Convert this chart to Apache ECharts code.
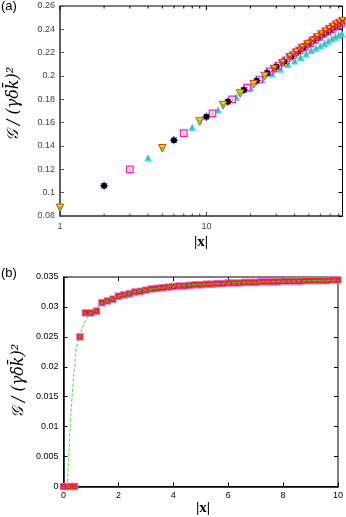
<!DOCTYPE html>
<html><head><meta charset="utf-8">
<script src="https://cdn.jsdelivr.net/npm/echarts@6/dist/echarts.min.js"></script>
<style>html,body{margin:0;padding:0;background:#fff}#c{width:346px;height:517px}</style>
</head><body><div id="c"></div>
<script>
// ---------- panel (a) data: |x| (log axis) vs G/(gamma dk)^2 ----------
const xA1 = [1,5,9,13,17,21,25,29,33,37,41,45,49,53,57,61,65,69,73,77,81,85];
const yA1 = [0.087,0.138,0.161,0.175,0.185,0.193,0.200,0.206,0.211,0.216,0.220,0.224,0.227,0.230,0.233,0.2355,0.238,0.240,0.242,0.244,0.2455,0.247];
const xA2 = [2,6,10,14,18,22,26,30,34,38,42,46,50,54,58,62,66,70,74,78,82];
const yA2 = [0.106,0.145,0.165,0.178,0.188,0.196,0.2025,0.208,0.2125,0.217,0.221,0.2245,0.228,0.231,0.2335,0.236,0.238,0.240,0.242,0.244,0.2455];
const xA3 = [3,7,11,15,19,23,27,31,35,39,43,47,51,55,59,63,67,71,75,79,83];
const yA3 = [0.120,0.151,0.168,0.180,0.190,0.197,0.204,0.209,0.2135,0.218,0.222,0.225,0.228,0.231,0.2335,0.236,0.238,0.240,0.242,0.2435,0.245];
const xA4 = [4,8,12,16,20,24,28,32,36,40,44,48,52,56,60,64,68,72,76,80,84];
const yA4 = [0.130,0.156,0.171,0.182,0.190,0.197,0.202,0.206,0.210,0.213,0.216,0.219,0.222,0.224,0.226,0.228,0.230,0.232,0.2335,0.235,0.2365];
const logMajorTicks = [1,10];
const logMinorTicks = [2,3,4,5,6,7,8,9,20,30,40,50,60,70,80];

// ---------- panel (b) data ----------
const xB = [0,0.2,0.4,0.6,0.8,1.0,1.2,1.4,1.6,1.8,2.0,2.2,2.4,2.6,2.8,3.0,3.2,3.4,3.6,3.8,4.0,4.2,4.4,4.6,4.8,5.0,5.2,5.4,5.6,5.8,6.0,6.2,6.4,6.6,6.8,7.0,7.2,7.4,7.6,7.8,8.0,8.2,8.4,8.6,8.8,9.0,9.2,9.4,9.6,9.8,10.0];
const yB = [0,0,0,0.025,0.029,0.029,0.0293,0.0307,0.031,0.0313,0.0318,0.032,0.0322,0.0325,0.0326,0.0328,0.033,0.0331,0.0332,0.0333,0.0334,0.0335,0.0335,0.0336,0.0337,0.0337,0.0338,0.0338,0.0339,0.0339,0.034,0.034,0.034,0.0341,0.0341,0.0341,0.0342,0.0342,0.0342,0.0342,0.0343,0.0343,0.0343,0.0343,0.0344,0.0344,0.0344,0.0344,0.0344,0.0345,0.0345];
const xFit = [0.14,0.18,0.22,0.26,0.3,0.35,0.4,0.45,0.5,0.6,0.7,0.8,0.9,1.0,1.2,1.4,1.6,1.8,2.0,2.5,3.0,3.5,4.0,4.5,5,6,7,8,9,10];
const yFit = [0,0.0038,0.0078,0.0112,0.0142,0.0172,0.0198,0.0225,0.0238,0.0253,0.0266,0.0276,0.0284,0.029,0.0299,0.0306,0.0311,0.0315,0.0318,0.0325,0.0329,0.0332,0.0335,0.0337,0.0338,0.034,0.0342,0.0343,0.0344,0.0345];

const zip = (xs, ys) => xs.map((x, i) => [x, ys[i]]);
const P_AST = 'path://M5,0L5,10M0,5L10,5M1.5,1.5L8.5,8.5M8.5,1.5L1.5,8.5';
const P_X = 'path://M0,0L10,10M10,0L0,10';

const chart = echarts.init(document.getElementById('c'), null, {renderer: 'canvas'});
const lab = {fontFamily: 'Liberation Sans', fontSize: 9};
const A_YMIN = 0.08, A_YMAX = 0.26;

function sc(name, xs, ys, xi, yi, symbol, size, color, border, bw, extra) {
  return Object.assign({
    name: name, type: 'scatter', xAxisIndex: xi, yAxisIndex: yi,
    data: zip(xs, ys), symbol: symbol, symbolSize: size,
    itemStyle: {color: color, borderColor: border || color, borderWidth: bw || 0, opacity: 1},
    emphasis: {disabled: true}, silent: true
  }, extra || {});
}

const tickData = logMajorTicks.map(v => [v, A_YMIN, 4]).concat(logMinorTicks.map(v => [v, A_YMIN, 2.5]));

const option = {
  animation: false,
  grid: [
    {left: 60, top: 6, width: 282.5, height: 210, show: true, borderColor: '#000', borderWidth: 1, containLabel: false},
    {left: 63.5, top: 277, width: 275.8, height: 209.5, show: true, borderColor: '#000', borderWidth: 1, containLabel: false}
  ],
  xAxis: [
    {type: 'log', logBase: 10, gridIndex: 0, min: 1, max: 85,
     axisLine: {show: true, onZero: false, lineStyle: {color: '#555', width: 1.5}},
     axisTick: {show: false}, minorTick: {show: false}, splitLine: {show: false},
     axisLabel: Object.assign({}, lab, {color: '#444', margin: 6, showMaxLabel: false,
       formatter: v => logMajorTicks.some(t => Math.abs(v - t) < 1e-6) ? String(Math.round(v)) : ''})},
    {type: 'value', gridIndex: 1, min: 0, max: 10, interval: 2,
     axisLine: {onZero: false, lineStyle: {color: '#000', width: 1.5}},
     axisTick: {inside: true, length: 4, lineStyle: {color: '#000'}}, splitLine: {show: false},
     axisLabel: Object.assign({}, lab, {color: '#000', margin: 5})},
    {type: 'value', gridIndex: 1, position: 'top', min: 0, max: 10, interval: 2,
     axisLine: {show: false, onZero: false}, axisTick: {inside: true, length: 4, lineStyle: {color: '#000'}},
     axisLabel: {show: false}, splitLine: {show: false}}
  ],
  yAxis: [
    {type: 'value', gridIndex: 0, min: A_YMIN, max: A_YMAX, interval: 0.02,
     axisLine: {show: true, onZero: false, lineStyle: {color: '#555', width: 1.5}},
     axisTick: {inside: true, length: 4, lineStyle: {color: '#555'}}, splitLine: {show: false},
     axisLabel: Object.assign({}, lab, {color: '#444', margin: 5})},
    {type: 'value', gridIndex: 0, position: 'right', min: A_YMIN, max: A_YMAX, interval: 0.02,
     axisLine: {show: false, onZero: false}, axisTick: {inside: true, length: 4, lineStyle: {color: '#000'}},
     axisLabel: {show: false}, splitLine: {show: false}},
    {type: 'value', gridIndex: 1, min: 0, max: 0.035, interval: 0.005,
     axisLine: {show: true, onZero: false, lineStyle: {color: '#000', width: 1.5}},
     axisTick: {inside: true, length: 4, lineStyle: {color: '#000'}}, splitLine: {show: false},
     axisLabel: Object.assign({}, lab, {color: '#000', margin: 5})},
    {type: 'value', gridIndex: 1, position: 'right', min: 0, max: 0.035, interval: 0.005,
     axisLine: {show: false, onZero: false}, axisTick: {inside: true, length: 4, lineStyle: {color: '#000'}},
     axisLabel: {show: false}, splitLine: {show: false}}
  ],
  series: [
    // log-axis ticks (bottom and top) for panel (a)
    {type: 'custom', xAxisIndex: 0, yAxisIndex: 0, data: tickData, silent: true, clip: false, z: 5,
     renderItem: function (params, api) {
       const x = api.value(0), len = api.value(2);
       const b = api.coord([x, A_YMIN]), t = api.coord([x, A_YMAX]);
       return {type: 'group', children: [
         {type: 'line', shape: {x1: b[0], y1: b[1], x2: b[0], y2: b[1] - len}, style: {stroke: '#333', lineWidth: 1}},
         {type: 'line', shape: {x1: t[0], y1: t[1], x2: t[0], y2: t[1] + len}, style: {stroke: '#000', lineWidth: 1}}
       ]};
     }},
    // panel (a) series
    sc('c4', xA4, yA4, 0, 0, 'triangle', 7.5, '#1fe6ee'),
    sc('c4in', xA4, yA4, 0, 0, 'triangle', 4, '#8c9898'),
    sc('c3', xA3, yA3, 0, 0, 'rect', 6.5, '#fff0fb', '#f020c8', 1.2),
    sc('c3in', xA3, yA3, 0, 0, 'triangle', 3.5, '#f4b070'),
    sc('c2ast', xA2, yA2, 0, 0, P_AST, 8.5, 'transparent', '#2828ff', 1),
    sc('c2', xA2, yA2, 0, 0, 'circle', 6, '#000'),
    sc('c1', xA1, yA1, 0, 0, 'triangle', 7.5, '#e8e818', '#e83a10', 1, {symbolRotate: 180}),
    sc('c1x', xA1, yA1, 0, 0, P_X, 4, 'transparent', '#30c030', 1),
    sc('c1r', xA1.slice(7), yA1.slice(7), 0, 0, P_X, 6, 'transparent', '#e82020', 1.3),
    // panel (b) series
    sc('b1', xB, yB, 1, 2, 'rect', 7.5, '#e868d8'),
    sc('b2', xB, yB, 1, 2, 'rect', 5.5, '#e02424'),
    sc('b3', xB, yB, 1, 2, 'triangle', 3, '#a07838'),
    {name: 'fit', type: 'line', xAxisIndex: 1, yAxisIndex: 2, data: zip(xFit, yFit), smooth: true,
     showSymbol: false, symbol: 'none', z: 10, silent: true,
     lineStyle: {color: '#33e033', width: 1, type: [3, 2]}}
  ],
  graphic: [
    {type: 'text', x: 1, y: 0, style: {text: '(a)', font: '13px "Liberation Sans"', fill: '#000'}},
    {type: 'text', x: 1, y: 267, style: {text: '(b)', font: '13px "Liberation Sans"', fill: '#000'}},
    {type: 'text', x: 14, y: 104, rotation: Math.PI / 2,
     style: {text: '𝒢 / (γδk̄)²', font: 'italic 16px "DejaVu Serif"', fill: '#000', align: 'center', verticalAlign: 'middle'}},
    {type: 'text', x: 19, y: 381, rotation: Math.PI / 2,
     style: {text: '𝒢 / (γδk̄)²', font: 'italic 16px "DejaVu Serif"', fill: '#000', align: 'center', verticalAlign: 'middle'}},
    {type: 'text', x: 201, y: 242,
     style: {text: '|x|', font: 'bold 15px "Liberation Serif"', fill: '#000', align: 'center', verticalAlign: 'middle'}},
    {type: 'text', x: 203, y: 508,
     style: {text: '|x|', font: 'bold 15px "Liberation Serif"', fill: '#000', align: 'center', verticalAlign: 'middle'}}
  ]
};
chart.setOption(option);
</script></body></html>
